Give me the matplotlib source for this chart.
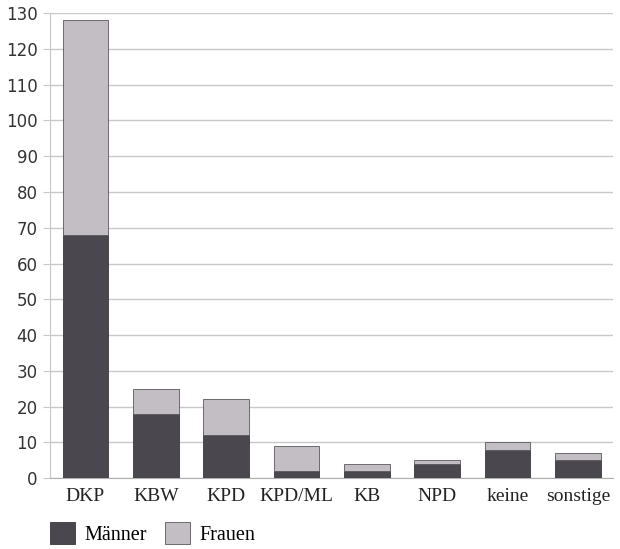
import matplotlib.pyplot as plt
import numpy as np

parteien = ['DKP', 'KBW', 'KPD', 'KPD/ML', 'KB', 'NPD', 'keine', 'sonstige']
maenner = [68, 18, 12, 2, 2, 4, 8, 5]
frauen = [60, 7, 10, 7, 2, 1, 2, 2]

fig = plt.figure(figsize=(6.2, 5.49), dpi=100)
ax = fig.add_axes([0.081, 0.129, 0.908, 0.847])

x = np.arange(len(parteien))
ax.bar(x, maenner, width=0.65, color='#4b474e', edgecolor='#3a373c', linewidth=0.6,
       label='Männer', zorder=3)
ax.bar(x, frauen, width=0.65, bottom=maenner, color='#c2bec4', edgecolor='#5a575c',
       linewidth=0.6, label='Frauen', zorder=3)

ax.set_xlim(-0.5, 7.5)
ax.set_ylim(0, 130)
ax.set_yticks(range(0, 131, 10))
ax.grid(axis='y', color='#c8c8c8', linewidth=1.0, zorder=0)
ax.set_axisbelow(True)

for side in ['top', 'right']:
    ax.spines[side].set_visible(False)
ax.spines['left'].set_color('#c8c8c8')
ax.spines['bottom'].set_color('#b0b0b0')
ax.tick_params(axis='y', length=5, color='#c8c8c8', labelsize=12, labelcolor='#333333', pad=4)
ax.tick_params(axis='x', length=0, labelsize=14, labelcolor='#222222', pad=7)

ax.set_xticks(x)
ax.set_xticklabels(parteien, family='Liberation Serif')
for lbl in ax.get_yticklabels():
    lbl.set_family('DejaVu Sans')

ax.legend(loc='upper left', bbox_to_anchor=(0.0, -0.095), ncol=2, frameon=False,
          prop={'family': 'Liberation Serif', 'size': 14.5}, handlelength=1.25,
          handleheight=1.25, columnspacing=0.9, handletextpad=0.45,
          borderpad=0, borderaxespad=0)

fig.savefig('out.png', dpi=100)
